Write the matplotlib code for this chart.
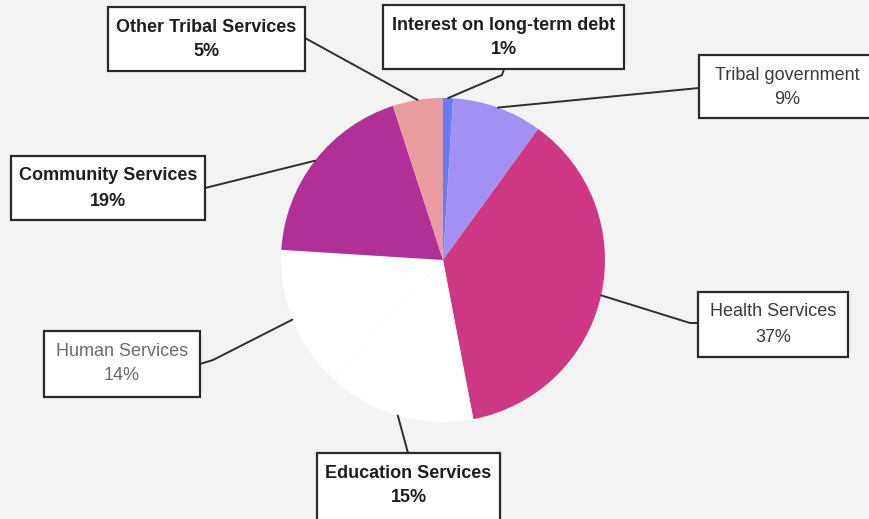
import numpy as np
import matplotlib.pyplot as plt
from matplotlib.patches import Rectangle

# Budget shares, clockwise from 12 o'clock
categories = ["Interest on long-term debt", "Tribal government", "Health Services",
              "Education Services", "Human Services", "Community Services",
              "Other Tribal Services"]
shares = [1, 9, 37, 15, 14, 19, 5]
colors = ["#6b7cf0", "#a291f2", "#cd3783", "#ffffff", "#ffffff", "#b03096", "#ea9ba0"]

# Label layout (pixel boxes: left, top, right, bottom) and styling
boxes = [(383, 5, 624, 69), (699, 55, 875, 118), (698, 292, 848, 357),
         (317, 453, 500, 525), (44, 331, 200, 397), (11, 156, 205, 220),
         (108, 7, 305, 71)]
weights = ["bold", "normal", "normal", "bold", "normal", "bold", "bold"]
text_colors = ["#1e1e1e", "#3a3a3a", "#3a3a3a", "#1e1e1e", "#6a6a6a", "#1e1e1e", "#1e1e1e"]
# leader line start points (pixels) with optional elbow
leader_starts = [[(504, 69), (502, 75)], [(699, 88)], [(698, 323), (690, 323)],
                 [(408, 453)], [(200, 364), (213, 360)], [(205, 188)], [(305, 38)]]

W, H = 869, 519
fig = plt.figure(figsize=(W / 100, H / 100), dpi=100)
fig.patch.set_facecolor("#f3f3f3")
ax = fig.add_axes([0, 0, 1, 1])

cx, cy, r = 443, H - 260, 162
wedges, _ = ax.pie(shares, colors=colors, startangle=90, counterclock=False,
                   center=(cx, cy), radius=r, frame=True,
                   wedgeprops=dict(linewidth=0))
ax.set_xlim(0, W)
ax.set_ylim(0, H)
ax.set_aspect("equal")
ax.axis("off")

font = ["Liberation Sans", "DejaVu Sans"]
for i, (name, val) in enumerate(zip(categories, shares)):
    w = wedges[i]
    mid = np.deg2rad((w.theta1 + w.theta2) / 2)
    ex, ey = cx + r * np.cos(mid), cy + r * np.sin(mid)
    pts = [(x, H - y) for x, y in leader_starts[i]] + [(ex, ey)]
    xs, ys = zip(*pts)
    ax.plot(xs, ys, color="#2e2e2e", lw=1.4, solid_capstyle="round", zorder=3)

    l, t, rr, b = boxes[i]
    ax.add_patch(Rectangle((l, H - b), rr - l, b - t, facecolor="white",
                           edgecolor="#2a2a2a", lw=1.6, zorder=4))
    bx = (l + rr) / 2
    by_top = H - (t + 20)
    ax.text(bx, by_top, name, ha="center", va="center", fontsize=13,
            fontweight=weights[i], color=text_colors[i], family=font, zorder=5)
    ax.text(bx, by_top - 25, f"{val}%", ha="center", va="center", fontsize=13,
            fontweight=weights[i], color=text_colors[i], family=font, zorder=5)

fig.savefig("out.png", dpi=100, facecolor=fig.get_facecolor())
